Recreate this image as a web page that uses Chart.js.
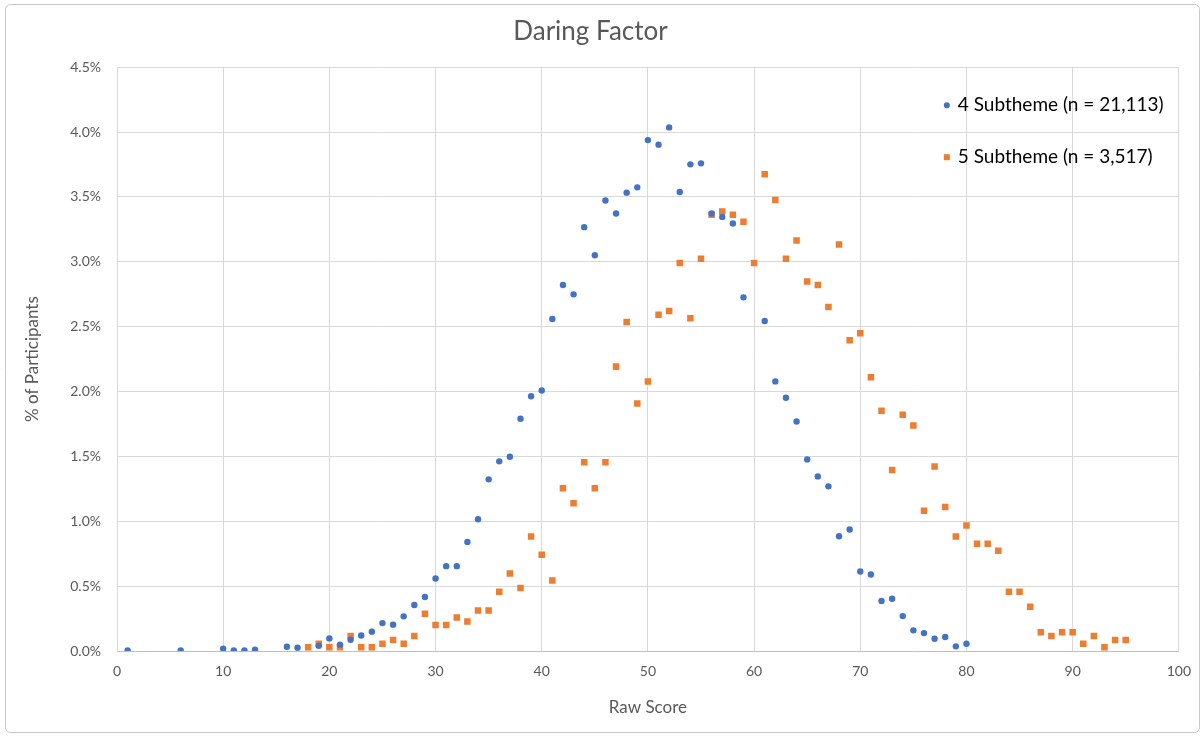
<!DOCTYPE html>
<html>
<head>
<meta charset="utf-8">
<script src="https://cdn.jsdelivr.net/npm/chart.js@4.4.0/dist/chart.umd.min.js"></script>
<style>
  html, body { margin: 0; padding: 0; background: #fff; }
  #wrap { width: 1203px; height: 737px; }
</style>
</head>
<body>
<div id="wrap"><canvas id="daringChart" width="1203" height="737"></canvas></div>
<script>
// raw scores and % of participants
const fourScores = [1, 6, 10, 11, 12, 13, 16, 17, 19, 20, 21, 22, 23, 24, 25, 26, 27, 28, 29, 30,
  31, 32, 33, 34, 35, 36, 37, 38, 39, 40, 41, 42, 43, 44, 45, 46, 47, 48, 49, 50,
  51, 52, 53, 54, 55, 56, 57, 58, 59, 61, 62, 63, 64, 65, 66, 67, 68, 69, 70, 71,
  72, 73, 74, 75, 76, 77, 78, 79, 80];
const fourPct = [0.005, 0.005, 0.018, 0.005, 0.005, 0.01, 0.033, 0.026, 0.041, 0.097, 0.049, 0.087, 0.12, 0.149, 0.215, 0.203, 0.267, 0.354, 0.416, 0.559,
  0.654, 0.654, 0.841, 1.015, 1.323, 1.462, 1.497, 1.79, 1.964, 2.008, 2.559, 2.821, 2.749, 3.267, 3.051, 3.472, 3.372, 3.533, 3.574, 3.938,
  3.903, 4.036, 3.538, 3.751, 3.759, 3.372, 3.346, 3.295, 2.726, 2.544, 2.078, 1.952, 1.769, 1.477, 1.346, 1.269, 0.885, 0.936, 0.613, 0.59,
  0.385, 0.403, 0.269, 0.159, 0.138, 0.095, 0.108, 0.036, 0.056];

const fiveScores = [18, 19, 20, 21, 22, 23, 24, 25, 26, 27, 28, 29, 30, 31, 32, 33, 34, 35, 36, 37,
  38, 39, 40, 41, 42, 43, 44, 45, 46, 47, 48, 49, 50, 51, 52, 53, 54, 55, 56, 57,
  58, 59, 60, 61, 62, 63, 64, 65, 66, 67, 68, 69, 70, 71, 72, 73, 74, 75, 76, 77,
  78, 79, 80, 81, 82, 83, 84, 85, 86, 87, 88, 89, 90, 91, 92, 93, 94, 95];
const fivePct = [0.028, 0.056, 0.028, 0.028, 0.115, 0.028, 0.028, 0.056, 0.085, 0.056, 0.115, 0.287, 0.2, 0.2, 0.259, 0.228, 0.313, 0.313, 0.456, 0.597,
  0.485, 0.882, 0.741, 0.544, 1.254, 1.138, 1.454, 1.254, 1.454, 2.192, 2.536, 1.908, 2.077, 2.592, 2.621, 2.99, 2.564, 3.023, 3.362, 3.387,
  3.362, 3.308, 2.99, 3.674, 3.477, 3.023, 3.164, 2.849, 2.821, 2.651, 3.133, 2.395, 2.449, 2.11, 1.852, 1.395, 1.821, 1.738, 1.082, 1.423,
  1.11, 0.882, 0.967, 0.826, 0.826, 0.772, 0.456, 0.456, 0.341, 0.144, 0.115, 0.144, 0.144, 0.056, 0.115, 0.028, 0.085, 0.085];

const seriesNames = ['4 Subtheme (n = 21,113)', '5 Subtheme (n = 3,517)'];
const blue = '#4472C4';
const orange = '#ED7D31';
const greyText = '#595959';
const fontFam = 'Lato, "Open Sans", sans-serif';

const toPoints = (xs, ys) => xs.map((x, i) => ({ x: x, y: ys[i] }));

// frame round the whole chart + legend inside the plot, like the excel one
const frameAndLegend = {
  id: 'frameAndLegend',
  beforeDraw(chart) {
    const ctx = chart.ctx;
    ctx.save();
    ctx.strokeStyle = '#c8c8c8';
    ctx.lineWidth = 1;
    ctx.beginPath();
    ctx.roundRect(5.5, 4.5, 1194, 728, 5);
    ctx.stroke();
    ctx.restore();
  },
  afterDraw(chart) {
    const ctx = chart.ctx;
    const area = chart.chartArea;
    ctx.save();
    ctx.font = '19px ' + fontFam;
    ctx.textBaseline = 'middle';
    chart.data.datasets.forEach((ds, i) => {
      const lx = area.right - 232;
      const ly = area.top + 38 + i * 52;
      ctx.fillStyle = ds.backgroundColor;
      if (ds.pointStyle === 'rect') {
        ctx.fillRect(lx - 3, ly - 3, 6, 6);
      } else {
        ctx.beginPath();
        ctx.arc(lx, ly, 3, 0, Math.PI * 2);
        ctx.fill();
      }
      ctx.fillStyle = '#000';
      ctx.fillText(ds.label, lx + 11, ly);
    });
    ctx.restore();
  }
};

const ctx = document.getElementById('daringChart').getContext('2d');
new Chart(ctx, {
  type: 'scatter',
  data: {
    datasets: [
      {
        label: seriesNames[0],
        data: toPoints(fourScores, fourPct),
        backgroundColor: blue,
        borderColor: blue,
        borderWidth: 0,
        pointStyle: 'circle',
        pointRadius: 3.2
      },
      {
        label: seriesNames[1],
        data: toPoints(fiveScores, fivePct),
        backgroundColor: orange,
        borderColor: orange,
        borderWidth: 0,
        pointStyle: 'rect',
        pointRadius: 4.6
      }
    ]
  },
  options: {
    responsive: false,
    animation: false,
    layout: { padding: { left: 0, right: 22, top: 0, bottom: 0 } },
    plugins: {
      legend: { display: false },
      tooltip: { enabled: false },
      title: {
        display: true,
        text: 'Daring Factor',
        color: greyText,
        font: { family: fontFam, size: 26, weight: 'normal' },
        padding: { top: 16, bottom: 20 }
      }
    },
    scales: {
      x: {
        type: 'linear',
        min: 0,
        max: 100,
        afterFit: s => { s.height = 86; },
        ticks: {
          stepSize: 10,
          color: greyText,
          padding: 12,
          font: { family: fontFam, size: 14 }
        },
        grid: { color: '#d9d9d9', drawTicks: false },
        border: { color: '#bfbfbf' },
        title: {
          display: true,
          text: 'Raw Score',
          color: greyText,
          font: { family: fontFam, size: 17 },
          padding: { top: 15, bottom: 19 }
        }
      },
      y: {
        min: 0,
        max: 4.5,
        afterFit: s => { s.width = 117; },
        ticks: {
          stepSize: 0.5,
          color: greyText,
          padding: 16,
          font: { family: fontFam, size: 14 },
          callback: v => v.toFixed(1) + '%'
        },
        grid: { color: '#d9d9d9', drawTicks: false },
        border: { color: '#d9d9d9' },
        title: {
          display: true,
          text: '% of Participants',
          color: greyText,
          font: { family: fontFam, size: 17 },
          padding: { top: 22, bottom: 0 }
        }
      }
    }
  },
  plugins: [frameAndLegend]
});
</script>
</body>
</html>
